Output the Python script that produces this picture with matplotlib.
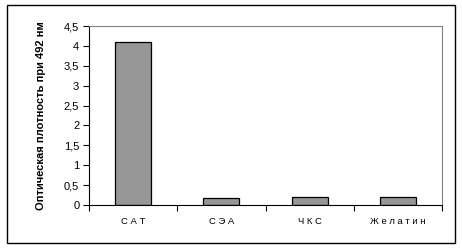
import numpy as np
import matplotlib
matplotlib.use("Agg")
import matplotlib.pyplot as plt
from matplotlib.patches import Rectangle
from matplotlib.ticker import FuncFormatter

categories = ["С А Т", "С Э А", "Ч К С", "Ж е л а т и н"]
values = [4.11, 0.17, 0.19, 0.19]
y_ticks = [0, 0.5, 1, 1.5, 2, 2.5, 3, 3.5, 4, 4.5]

plt.rcParams["font.family"] = ["Liberation Sans", "DejaVu Sans"]

fig = plt.figure(figsize=(4.62, 2.48), dpi=100)
ax = fig.add_axes([89 / 462, 1 - 205 / 248, 353 / 462, 179 / 248])

# outer frame of the chart
fig.patches.append(Rectangle((7 / 462, 1 - 243 / 248), 448 / 462, 238 / 248,
                             transform=fig.transFigure, fill=False,
                             edgecolor="black", linewidth=1.0))

x = np.arange(len(categories))
ax.bar(x, values, width=0.41, color="#969696", edgecolor="black", linewidth=0.9)

ax.set_xlim(-0.5, len(categories) - 0.5)
ax.set_ylim(0, 4.5)
ax.set_yticks(y_ticks)
ax.yaxis.set_major_formatter(FuncFormatter(lambda v, p: ("%g" % v).replace(".", ",")))
ax.tick_params(axis="y", direction="out", length=4, width=0.8, labelsize=8, pad=3)

ax.set_xticks(x)
ax.set_xticklabels(categories, fontsize=6.8)
ax.tick_params(axis="x", length=0, pad=9)
ax.set_xticks(np.arange(len(categories) + 1) - 0.5, minor=True)
ax.tick_params(axis="x", which="minor", direction="out", length=4, width=0.8)

ax.spines["top"].set_color("#808080")
ax.spines["right"].set_color("#808080")
ax.spines["left"].set_linewidth(0.8)
ax.spines["bottom"].set_linewidth(0.8)

ax.set_ylabel("Оптическая плотность при 492 нм", fontsize=8, fontweight="bold", labelpad=13)

fig.savefig("out.png", dpi=100)
